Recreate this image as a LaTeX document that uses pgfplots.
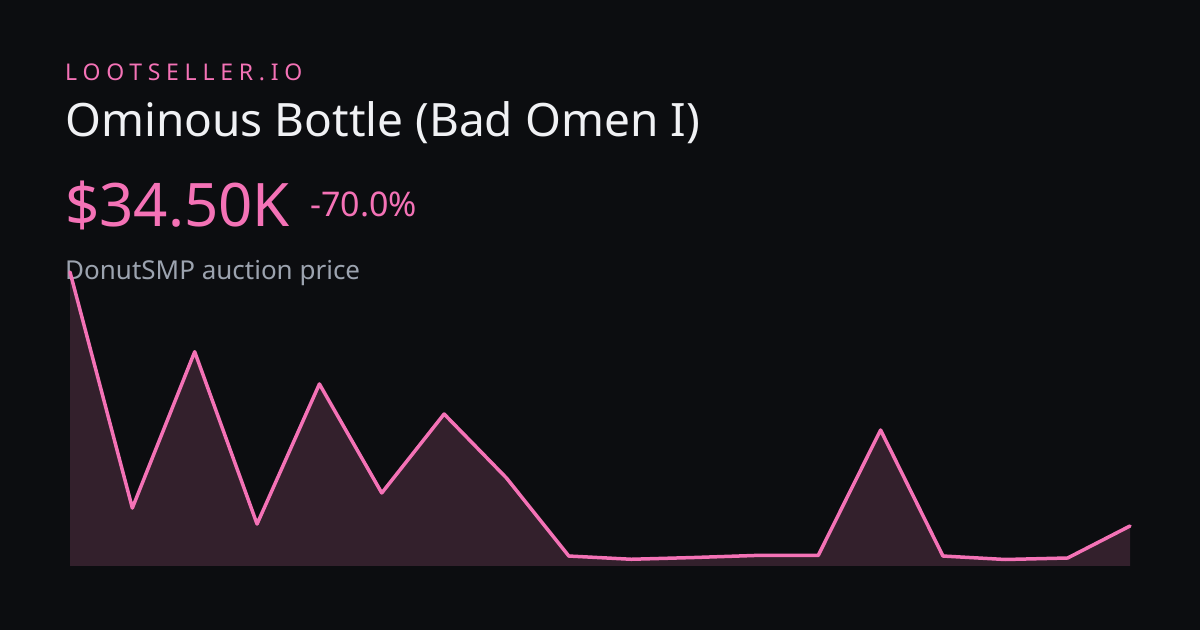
\documentclass[border=0pt]{standalone}
\usepackage{pgfplots}
\pgfplotsset{compat=1.18}
\usepackage{fontspec}
\setmainfont{Noto Sans}
\definecolor{bg}{HTML}{0C0D10}
\definecolor{pink}{HTML}{F472B6}
\definecolor{pinkfill}{HTML}{33202C}
\definecolor{titlecol}{HTML}{F0F1F4}
\definecolor{subcol}{HTML}{9CA3AF}

% price history, in thousands
\pgfplotstableread{
i  price
0  253.6
1  50.0
2  184.8
3  36.2
4  157.0
5  63.0
6  131.1
7  75.9
8  8.6
9  5.8
10 7.3
11 9.1
12 9.1
13 117.3
14 8.6
15 5.6
16 6.9
17 34.5
}\prices

\begin{document}
\begin{tikzpicture}[x=1bp,y=1bp]
\fill[bg] (0,0) rectangle (1200,630);

\node[anchor=base west,inner sep=0,text=pink] at (65,549)
  {\fontsize{23bp}{26bp}\selectfont\addfontfeatures{LetterSpace=25}LOOTSELLER.IO};
\node[anchor=base west,inner sep=0,text=titlecol] at (65,493)
  {\fontsize{46bp}{50bp}\selectfont Ominous Bottle (Bad Omen I)};
\node[anchor=base west,inner sep=0,text=pink] at (65,403)
  {\fontsize{60bp}{66bp}\selectfont \$34.50K};
\node[anchor=base west,inner sep=0,text=pink] at (310,413)
  {\fontsize{34bp}{38bp}\selectfont -70.0\%};
\node[anchor=base west,inner sep=0,text=subcol] at (65,350)
  {\fontsize{26bp}{30bp}\selectfont DonutSMP auction price};

\begin{axis}[
    at={(70bp,64bp)}, anchor=south west,
    width=1060bp, height=294bp, scale only axis,
    hide axis, clip=false,
    xmin=0, xmax=17, ymin=0, ymax=253.6,
]
\addplot[fill=pinkfill, draw=none] table[x=i,y=price]{\prices} \closedcycle;
\addplot[pink, line width=3.5bp, line join=round, line cap=round] table[x=i,y=price]{\prices};
\end{axis}
\end{tikzpicture}
\end{document}
